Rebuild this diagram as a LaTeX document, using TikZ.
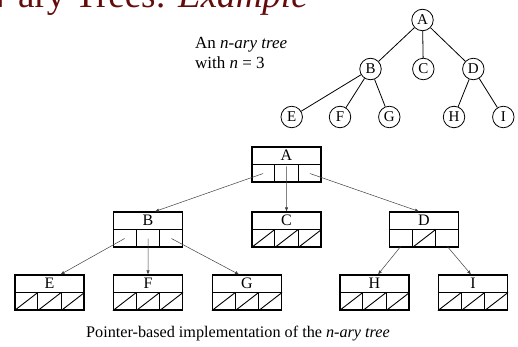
\documentclass[tikz,border=0pt]{standalone}
\usepackage{fontspec}
\setmainfont{Liberation Serif}
\usetikzlibrary{calc,arrows.meta}
\definecolor{titlered}{RGB}{100,12,12}
\tikzset{
 rec/.style={draw, line width=1.1pt, minimum width=69pt, minimum height=35pt, inner sep=0pt},
 recline/.style={line width=1.1pt},
 nullline/.style={line width=0.9pt},
 ptr/.style={draw=black!75, line width=0.5pt, -{Latex[length=4pt,width=3.4pt]}},
 tnode/.style={circle, draw, line width=0.8pt, minimum size=21.5pt, inner sep=0pt, font=\fontsize{15}{15}\selectfont},
 tedge/.style={line width=0.8pt},
 lbl/.style={font=\fontsize{16}{16}\selectfont, inner sep=0pt}
}
\newcommand\recbox[4]{%
 \node[rec] (#1) at (#2,#3) {};
 \node[lbl] (#1l) at ($(#1.north)!0.5!(#1.center)$) {#4};
 \draw[recline] (#1.west) -- (#1.east);
 \draw[recline] ($(#1.west)!1/3!(#1.east)$) -- ($(#1.south west)!1/3!(#1.south east)$);
 \draw[recline] ($(#1.west)!2/3!(#1.east)$) -- ($(#1.south west)!2/3!(#1.south east)$);
 \coordinate (#1c1) at ($(#1.west)!1/6!(#1.east)+(0,9)$);
 \coordinate (#1c2) at ($(#1.west)!1/2!(#1.east)+(0,9)$);
 \coordinate (#1c3) at ($(#1.west)!5/6!(#1.east)+(0,9)$);
}
\newcommand\nullcell[2]{\draw[nullline] ($(#1.south west)!{(#2-1)/3}!(#1.south east)$) -- ($(#1.west)!{#2/3}!(#1.east)$);}
\begin{document}
\begin{tikzpicture}[x=1pt,y=-1pt]
\useasboundingbox (0,0) rectangle (518,347);
% title
\node[anchor=base west, text=titlered, inner sep=0pt, font=\fontsize{37}{37}\selectfont] (title) at (-21,7.5) {N-ary Trees: \textit{Example}};
% label
\node[anchor=base west, inner sep=0pt, font=\fontsize{17}{17}\selectfont] (lab1) at (195,48.5) {An \textit{n-ary tree}};
\node[anchor=base west, inner sep=0pt, font=\fontsize{17}{17}\selectfont] (lab2) at (195,69) {with \textit{n} = 3};
% tree
\node[tnode] (tA) at (422.5,20) {A};
\node[tnode] (tB) at (370.5,69) {B};
\node[tnode] (tC) at (423.3,69) {C};
\node[tnode] (tD) at (473.3,69) {D};
\node[tnode] (tE) at (291.7,117) {E};
\node[tnode] (tF) at (340,117) {F};
\node[tnode] (tG) at (389.3,117) {G};
\node[tnode] (tH) at (454,117) {H};
\node[tnode] (tI) at (503.3,117) {I};
\foreach \a/\b in {tA/tB,tA/tC,tA/tD,tB/tE,tB/tF,tB/tG,tD/tH,tD/tI}
  \draw[tedge] (\a) -- (\b);
% records
\recbox{A}{286.5}{164.5}{A}
\recbox{B}{148}{229.5}{B}
\recbox{C}{286.5}{229.5}{C}
\recbox{D}{424}{229.5}{D}
\recbox{E}{49.5}{292.5}{E}
\recbox{F}{148}{292.5}{F}
\recbox{G}{247}{292.5}{G}
\recbox{H}{374.5}{292.5}{H}
\recbox{I}{473}{292.5}{I}
\foreach \n in {C,E,F,G,H,I}{\nullcell{\n}{1}\nullcell{\n}{2}\nullcell{\n}{3}}
\nullcell{D}{2}
% pointers
\draw[ptr] (Ac1) -- ($(B.north)+(7,0)$);
\draw[ptr] ($(Ac2)+(0,-7)$) -- (C.north);
\draw[ptr] (Ac3) -- ($(D.north)+(-5,0)$);
\draw[ptr] (Bc1) -- ($(E.north)+(11,0)$);
\draw[ptr] (Bc2) -- (F.north);
\draw[ptr] (Bc3) -- ($(G.north)+(-8,0)$);
\draw[ptr] ($(Dc1)+(0,8)$) -- ($(H.north)+(3.5,0)$);
\draw[ptr] ($(Dc3)+(0,8)$) -- ($(I.north)+(-2,0)$);
% caption
\node[anchor=base, inner sep=0pt, font=\fontsize{16.2}{16.2}\selectfont] (cap) at (238,337) {Pointer-based implementation of the \textit{n-ary tree}};
\end{tikzpicture}
\end{document}
